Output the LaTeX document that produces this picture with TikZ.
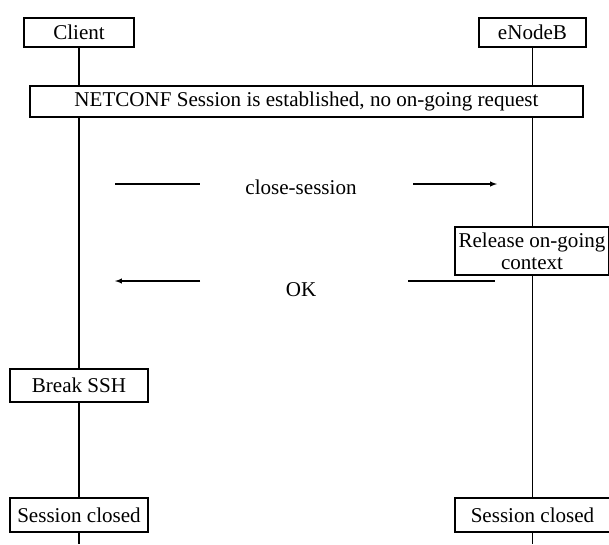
\documentclass[tikz,border=0pt]{standalone}
\usepackage{fontspec}
\setmainfont{Liberation Serif}
\usetikzlibrary{arrows}

\tikzset{
  box/.style={draw, line width=0.8pt, inner sep=0pt, align=center, font=\fontsize{15.8}{16.5}\selectfont},
  msg/.style={inner sep=0pt, font=\fontsize{15.8}{16.5}\selectfont},
  life/.style={line width=0.8pt},
}

\begin{document}
\begin{tikzpicture}[x=0.75pt,y=0.75pt,yscale=-1,xscale=1]
\useasboundingbox (0,0) rectangle (609,544);

% Actors
\node [box, minimum width=82.5pt, minimum height=21.75pt] (client) at (79,32.5) {Client};
\node [box, minimum width=80.25pt, minimum height=21.75pt] (enodeb) at (532.5,32.5) {eNodeB};

% Session box
\node [box, minimum width=414.75pt, minimum height=23.25pt] (netconf) at (306.5,101.5) {NETCONF Session is established, no on-going request};

% Messages
\node [msg] (msgclose) at (301,187) {close-session};
\coordinate (cs1) at (115,184);
\coordinate (cs2) at (200,184);
\coordinate (cs3) at (413,184);
\coordinate (cs4) at (497,184);
\draw [life] (cs1) -- (cs2);
\draw [life,-latex] (cs3) -- (cs4);

\node [box, minimum width=115.5pt, minimum height=36pt] (release) at (532,251) {Release on-going\\context};

\node [msg] (msgok) at (301,290) {OK};
\coordinate (ok1) at (200,281);
\coordinate (ok2) at (115,281);
\coordinate (ok3) at (408,281);
\coordinate (ok4) at (495,281);
\draw [life,-latex] (ok1) -- (ok2);
\draw [life] (ok3) -- (ok4);

% Client side
\node [box, minimum width=103.5pt, minimum height=24.75pt] (breakssh) at (79,385.5) {Break SSH};
\node [box, minimum width=103.5pt, minimum height=25.5pt] (closedl) at (79,515) {Session closed};

% eNodeB side
\node [box, minimum width=116.25pt, minimum height=25.5pt] (closedr) at (532.5,515) {Session closed};

% Lifelines
\coordinate (clientend) at (79,544);
\coordinate (enodebend) at (532.5,544);
\draw [life] (client.south) -- (client.south |- netconf.north);
\draw [life] (client.south |- netconf.south) -- (breakssh.north);
\draw [life] (breakssh.south) -- (closedl.north);
\draw [life] (closedl.south) -- (clientend);
\draw [life] (enodeb.south) -- (enodeb.south |- netconf.north);
\draw [life] (enodeb.south |- netconf.south) -- (release.north -| enodeb.south);
\draw [life] (release.south -| enodeb.south) -- (closedr.north);
\draw [life] (closedr.south) -- (enodebend);
\end{tikzpicture}
\end{document}
